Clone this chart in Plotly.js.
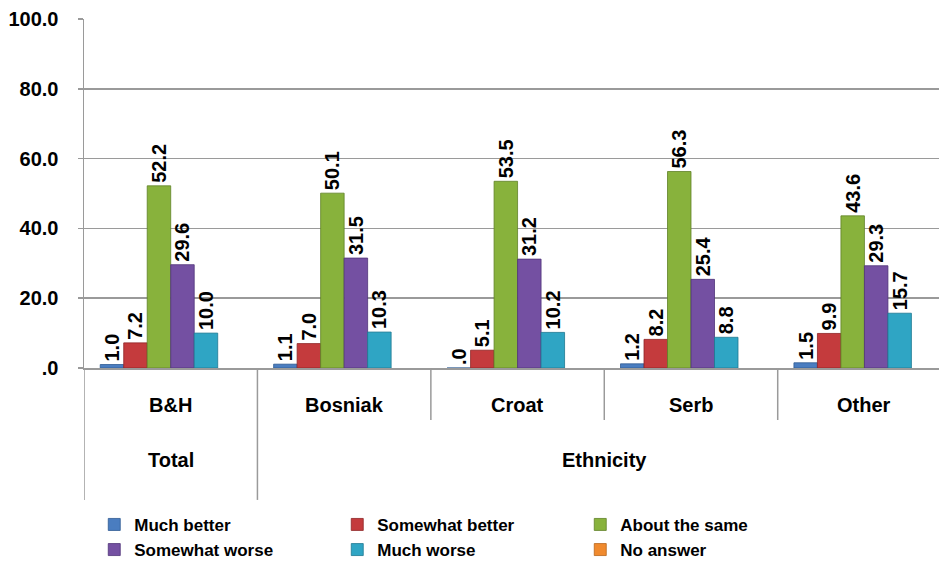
<!DOCTYPE html>
<html>
<head>
<meta charset="utf-8">
<script src="https://cdn.plot.ly/plotly-3.0.1.min.js"></script>
<style>
  html, body { margin: 0; padding: 0; background: #fff; }
  #chart { width: 939px; height: 567px; }
</style>
</head>
<body>
<div id="chart"></div>
<script>
// Survey answers by group (percent)
const categories = ['B&H', 'Bosniak', 'Croat', 'Serb', 'Other'];
const groupNames = ['Total', 'Ethnicity'];
const groupSpans = [[0, 0], [1, 4]];   // first and last category index of each group

const seriesNames = ['Much better', 'Somewhat better', 'About the same',
                     'Somewhat worse', 'Much worse', 'No answer'];
const muchBetter     = [1.0, 1.1, 0.0, 1.2, 1.5];
const somewhatBetter = [7.2, 7.0, 5.1, 8.2, 9.9];
const aboutTheSame   = [52.2, 50.1, 53.5, 56.3, 43.6];
const somewhatWorse  = [29.6, 31.5, 31.2, 25.4, 29.3];
const muchWorse      = [10.0, 10.3, 10.2, 8.8, 15.7];
const noAnswer       = [null, null, null, null, null];

const yTickValues = [0, 20, 40, 60, 80, 100];

const seriesValues = [muchBetter, somewhatBetter, aboutTheSame, somewhatWorse, muchWorse, noAnswer];
const seriesColors = ['#4A7DC0', '#C43B3D', '#88B23C', '#7450A2', '#2FA5C4', '#F08A2E'];
const seriesEdges  = ['#2E5A92', '#8E2426', '#5F8227', '#4F3478', '#1E7892', '#B8641B'];

// "0.0" -> ".0", "52.2" stays
function fmt(v) {
  const s = v.toFixed(1);
  return s.startsWith('0.') ? s.slice(1) : s;
}

const FONT = 'Arial, "Liberation Sans", sans-serif';
const xIdx = categories.map((_, i) => i);

const traces = seriesNames.map((name, k) => ({
  type: 'bar',
  name: name,
  x: xIdx,
  y: seriesValues[k],
  text: seriesValues[k].map(v => v === null ? '' : fmt(v)),
  textposition: 'outside',
  textangle: -90,
  cliponaxis: false,
  textfont: { family: FONT, size: 20, color: '#000', weight: 'bold' },
  marker: { color: seriesColors[k], line: { color: seriesEdges[k], width: 0.8 } },
  hoverinfo: 'name+y'
}));

// Category-axis scaffolding: dividers and two rows of labels under the plot
const rowLine1 = -0.149;   // bottom of category row
const rowLine2 = -0.378;   // bottom of group row
const gridColor = '#9A9A9A';

const shapes = [];
// left axis extension and group separators through both rows
groupSpans.forEach(span => {
  shapes.push({ type: 'line', xref: 'x', yref: 'paper', x0: span[0] - 0.5, x1: span[0] - 0.5,
                y0: 0, y1: rowLine2, line: { color: gridColor, width: 1.5 } });
});
// separators between categories inside a group
groupSpans.forEach(span => {
  for (let i = span[0] + 1; i <= span[1]; i++) {
    shapes.push({ type: 'line', xref: 'x', yref: 'paper', x0: i - 0.5, x1: i - 0.5,
                  y0: 0, y1: rowLine1, line: { color: gridColor, width: 1.5 } });
  }
});

const annotations = [];
categories.forEach((c, i) => {
  annotations.push({ xref: 'x', yref: 'paper', x: i, y: -0.106, yanchor: 'middle',
                     text: c, showarrow: false,
                     font: { family: FONT, size: 20, color: '#000', weight: 'bold' } });
});
groupNames.forEach((g, j) => {
  annotations.push({ xref: 'x', yref: 'paper', x: (groupSpans[j][0] + groupSpans[j][1]) / 2,
                     y: -0.264, yanchor: 'middle', text: g, showarrow: false,
                     font: { family: FONT, size: 20, color: '#000', weight: 'bold' } });
});

const layout = {
  width: 939, height: 567,
  margin: { l: 84, r: 0, t: 19, b: 199, pad: 0, autoexpand: false },
  paper_bgcolor: '#fff', plot_bgcolor: '#fff',
  barmode: 'group', bargap: 0.187, bargroupgap: 0,
  uniformtext: { mode: 'show', minsize: 20 },
  showlegend: true,
  legend: {
    orientation: 'h', x: 0.012, xanchor: 'left', y: -0.398, yanchor: 'top',
    entrywidth: 198, entrywidthmode: 'pixels', tracegroupgap: 0,
    font: { family: FONT, size: 17, color: '#000', weight: 'bold' },
    traceorder: 'normal'
  },
  xaxis: {
    range: [-0.5, 4.43], showticklabels: false, ticks: '', showgrid: false,
    zeroline: false, showline: true, linecolor: gridColor, linewidth: 1.5, fixedrange: true
  },
  yaxis: {
    range: [0, 100], tickvals: yTickValues, ticktext: yTickValues.map(fmt),
    ticks: 'outside', ticklen: 5, tickcolor: gridColor, tickwidth: 1.5,
    showline: true, linecolor: gridColor, linewidth: 1.5,
    showgrid: true, gridcolor: gridColor, gridwidth: 1.5, zeroline: false,
    ticklabelstandoff: 15,
    tickfont: { family: FONT, size: 20, color: '#000', weight: 'bold' }, fixedrange: true
  },
  shapes: shapes,
  annotations: annotations
};

Plotly.newPlot('chart', traces, layout, { displayModeBar: false, staticPlot: true });
</script>
</body>
</html>
